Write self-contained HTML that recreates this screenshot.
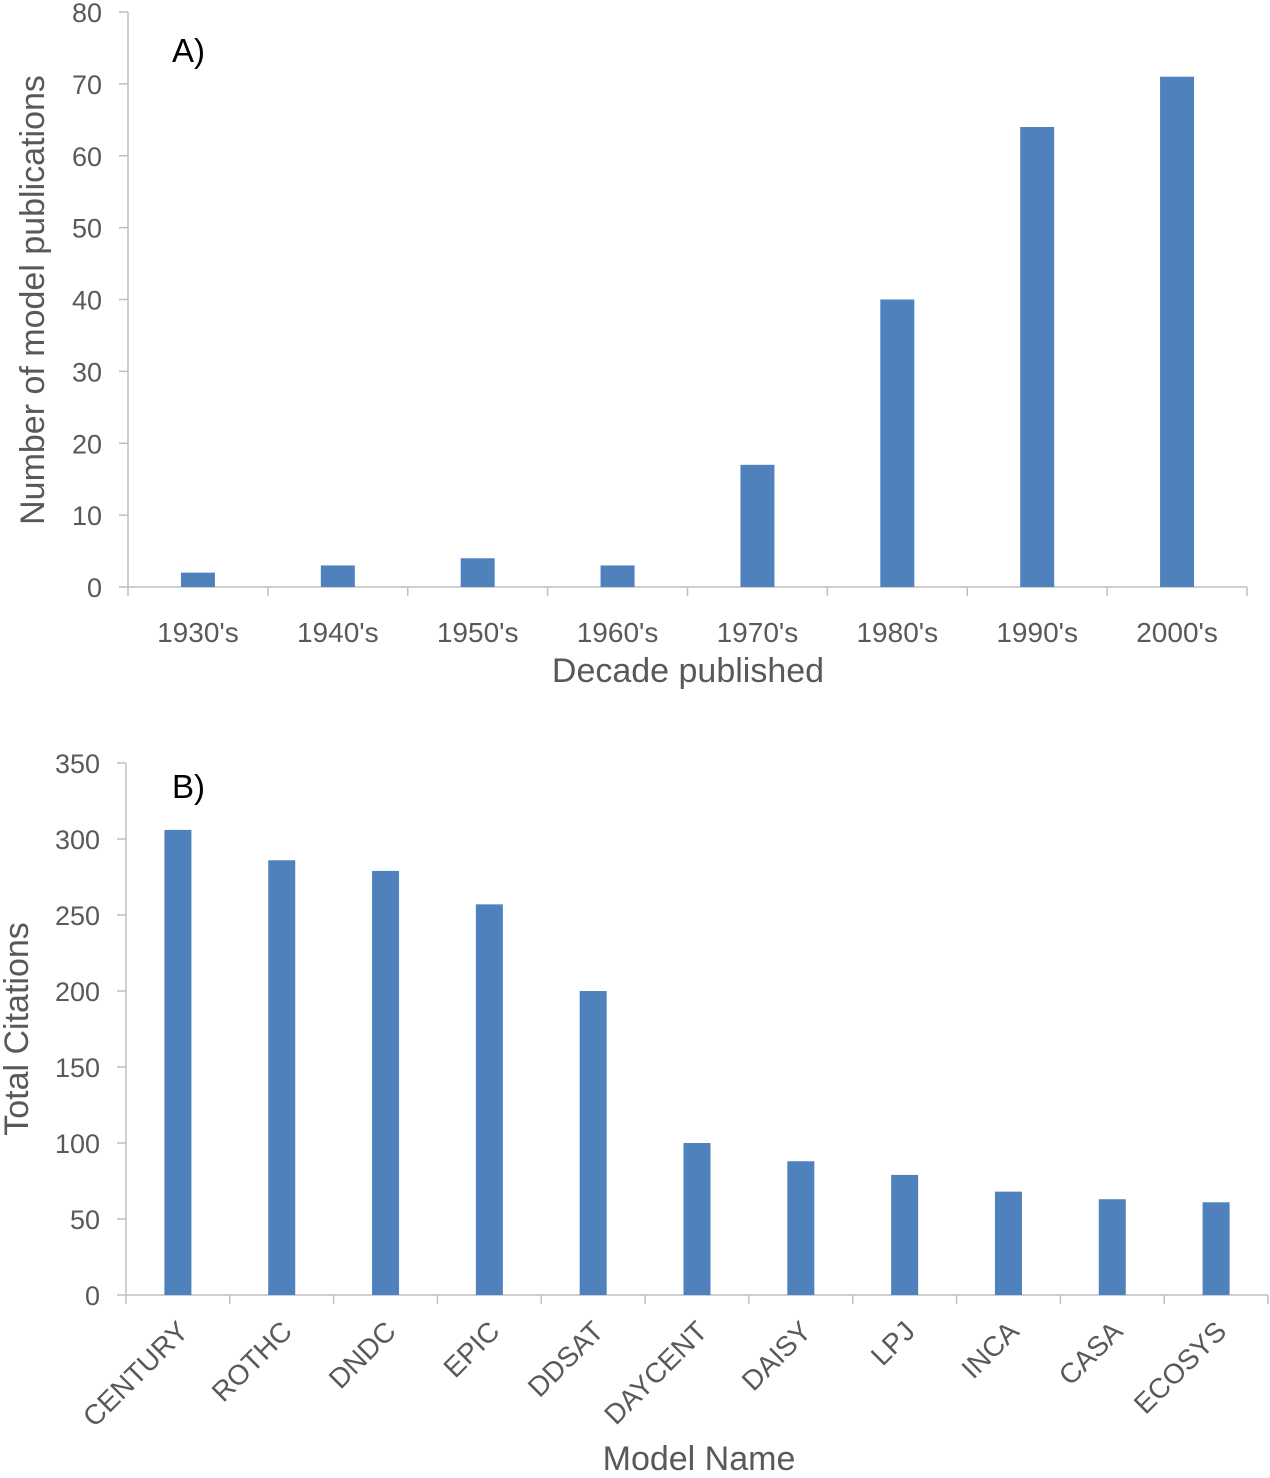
<!DOCTYPE html>
<html><head><meta charset="utf-8"><style>
body{margin:0;background:#fff}
svg text{font-family:"Liberation Sans",sans-serif;fill:#595959}
</style></head><body>
<svg id="c" width="1270" height="1473"></svg>
<script>
const catsA=["1930's","1940's","1950's","1960's","1970's","1980's","1990's","2000's"];
const valsA=[2,3,4,3,17,40,64,71];
const ticksA=[0,10,20,30,40,50,60,70,80];
const catsB=["CENTURY","ROTHC","DNDC","EPIC","DDSAT","DAYCENT","DAISY","LPJ","INCA","CASA","ECOSYS"];
const valsB=[306,286,279,257,200,100,88,79,68,63,61];
const ticksB=[0,50,100,150,200,250,300,350];
const NS="http://www.w3.org/2000/svg";
const svg=document.getElementById('c');
function el(t,a,txt){const e=document.createElementNS(NS,t);for(const k in a)e.setAttribute(k,a[k]);if(txt!=null)e.textContent=txt;svg.appendChild(e);return e;}
function chart(o){
  const y=v=>o.y0-(v/o.max)*(o.y0-o.y1);
  const step=(o.x1-o.x0)/o.cats.length;
  const x=i=>o.x0+step*(i+0.5);
  let a=el('line',{x1:o.x0,x2:o.x0,y1:o.y1,y2:o.y0,stroke:'#bfbfbf','stroke-width':1.5});
  
  a=el('line',{x1:o.x0,x2:o.x1,y1:o.y0,y2:o.y0,stroke:'#bfbfbf','stroke-width':1.5});
  
  o.ticks.forEach(t=>{
    el('line',{x1:o.x0-9,x2:o.x0,y1:y(t),y2:y(t),stroke:'#bfbfbf','stroke-width':1.5});
    const tl=el('text',{x:o.x0-26,y:y(t)+10,'text-anchor':'end','font-size':27},t);
    
    
  });
  for(let i=0;i<=o.cats.length;i++)el('line',{x1:o.x0+step*i,x2:o.x0+step*i,y1:o.y0,y2:o.y0+9,stroke:'#bfbfbf','stroke-width':1.5});
  o.cats.forEach((c,i)=>{
    const b=el('rect',{x:x(i)-o.bw/2,y:y(o.vals[i]),width:o.bw,height:o.y0-y(o.vals[i]),fill:'#4f81bd'});
    
    
    let t;
    if(o.rot){t=el('text',{x:x(i)+12,y:o.y0+38,'text-anchor':'end','font-size':28,transform:`rotate(-45 ${x(i)+12} ${o.y0+38})`},c);}
    else t=el('text',{x:x(i),y:o.y0+55,'text-anchor':'middle','font-size':28},c);
    
    
  });
}
chart({p:'a',cats:catsA,vals:valsA,ticks:ticksA,max:80,x0:128,x1:1247,y0:587,y1:12,bw:34,rot:false});
chart({p:'b',cats:catsB,vals:valsB,ticks:ticksB,max:350,x0:126,x1:1268,y0:1295,y1:763,bw:27,rot:true});
let t;
t=el('text',{x:172,y:62,'font-size':33,style:'fill:#000'},'A)');
t=el('text',{x:172,y:798,'font-size':33,style:'fill:#000'},'B)');
t=el('text',{x:688,y:682,'text-anchor':'middle','font-size':34},'Decade published');
t=el('text',{x:44,y:300,'text-anchor':'middle','font-size':34,transform:'rotate(-90 44 300)'},'Number of model publications');
t=el('text',{x:699,y:1470,'text-anchor':'middle','font-size':34},'Model Name');
t=el('text',{x:28,y:1029,'text-anchor':'middle','font-size':34,transform:'rotate(-90 28 1029)'},'Total Citations');
</script>
</body></html>
